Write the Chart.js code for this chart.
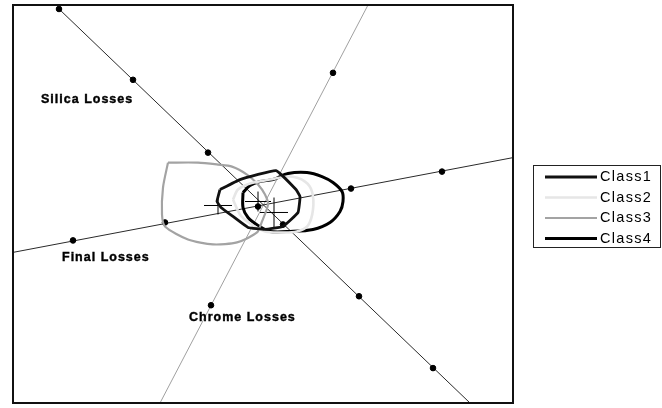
<!DOCTYPE html>
<html>
<head>
<meta charset="utf-8">
<script src="https://cdn.jsdelivr.net/npm/chart.js@4/dist/chart.umd.min.js"></script>
<style>
  body { margin: 0; background: #fff; }
</style>
</head>
<body>
<canvas id="BiplotChart" width="662" height="408"></canvas>
<script>
// Biplot units: x runs 0..500, y runs 0..399 inside the frame

// Calibrated variable axes (end points and tick marks)
var silicaLineX = [46, 457];
var silicaLineY = [395, 0];
var silicaTickX = [46, 120, 195, 270, 346, 420];
var silicaTickY = [395, 324, 251, 179, 107, 35];

var finalLineX = [0, 500];
var finalLineY = [151, 246];
var finalTickX = [60, 152, 338, 429];
var finalTickY = [163, 181, 215, 232];

var chromeLineX = [147, 355];
var chromeLineY = [0, 399];
var chromeTickX = [198, 320];
var chromeTickY = [98, 331];

var originX = [245];
var originY = [197];

// Class regions
var class1X = [207, 204, 208, 220, 235, 252, 270, 285, 287, 283, 263, 227, 207];
var class1Y = [214, 202, 196, 187, 176, 174, 177, 191, 207, 214, 233, 224, 214];

var class2X = [220, 225, 237, 257, 277, 292, 299, 300, 295, 284, 270, 252, 237, 227, 220];
var class2Y = [204, 214, 220, 224, 227, 222, 212, 194, 178, 172, 171, 172, 180, 189, 204];

var class3X = [155, 185, 205, 219, 234, 245, 252, 255, 249, 244, 224, 200, 175, 152, 149, 150, 155];
var class3Y = [241, 241, 239, 237, 229, 219, 209, 199, 182, 171, 161, 159, 164, 177, 189, 216, 241];

var class4X = [230, 237, 247, 260, 275, 294, 309, 320, 329, 330, 327, 317, 300, 277, 257, 245, 235, 230, 230];
var class4Y = [211, 218, 222, 224, 230, 231, 227, 221, 212, 202, 192, 181, 174, 172, 172, 178, 186, 196, 211];

// Class means and spread (cross arms)
var meanX = [205, 245, 261];
var meanY = [198, 202, 191];
var spreadX = [14, 13, 14];
var spreadY = [9, 10, 15];

var axisNames = ["Silica Losses", "Final Losses", "Chrome Losses"];
var axisNameX = [28, 49, 176];
var axisNameY = [304, 146, 86];

function pts(xs, ys) {
    return xs.map(function (x, i) { return { x: x, y: ys[i] }; });
}

function crossPts() {
    var out = [];
    for (var i = 0; i < meanX.length; i++) {
        out.push({ x: meanX[i] - spreadX[i], y: meanY[i] });
        out.push({ x: meanX[i] + spreadX[i], y: meanY[i] });
        out.push({ x: null, y: null });
        out.push({ x: meanX[i], y: meanY[i] - spreadY[i] });
        out.push({ x: meanX[i], y: meanY[i] + spreadY[i] });
        out.push({ x: null, y: null });
    }
    return out;
}

function lineSet(label, data, color, width, tension) {
    return {
        label: label,
        data: data,
        showLine: true,
        borderColor: color,
        borderWidth: width,
        pointRadius: 0,
        tension: tension,
        fill: false
    };
}

function tickSet(label, data) {
    return {
        label: label,
        data: data,
        showLine: false,
        pointRadius: 2.8,
        pointBackgroundColor: "#000",
        pointBorderColor: "#000"
    };
}

var classSets = [
    lineSet("Class1", pts(class1X, class1Y), "#111111", 2.8, 0.1),
    lineSet("Class2", pts(class2X, class2Y), "#e6e6e6", 2.6, 0.3),
    lineSet("Class3", pts(class3X, class3Y), "#a3a3a3", 2.2, 0.25),
    lineSet("Class4", pts(class4X, class4Y), "#000000", 3, 0.3)
];

var axisLabels = {
    id: "axisLabels",
    afterDatasetsDraw: function (chart) {
        var ctx = chart.ctx;
        var xs = chart.scales.x, ys = chart.scales.y;
        ctx.save();
        ctx.fillStyle = "#000";
        ctx.strokeStyle = "#000";
        ctx.lineWidth = 0.4;
        ctx.font = "bold 12.5px 'Liberation Sans', Arial, sans-serif";
        ctx.letterSpacing = "1px";
        ctx.textBaseline = "middle";
        ctx.textAlign = "left";
        axisNames.forEach(function (name, i) {
            var px = xs.getPixelForValue(axisNameX[i]);
            var py = ys.getPixelForValue(axisNameY[i]);
            ctx.fillText(name, px, py);
            ctx.strokeText(name, px, py);
        });
        ctx.restore();
    }
};

var frameAndLegend = {
    id: "frameAndLegend",
    afterDraw: function (chart) {
        var ctx = chart.ctx;
        var a = chart.chartArea;
        ctx.save();
        ctx.strokeStyle = "#111";
        ctx.lineWidth = 2;
        ctx.strokeRect(a.left, a.top, a.right - a.left, a.bottom - a.top);

        // legend box
        ctx.lineWidth = 1;
        ctx.strokeStyle = "#222";
        ctx.strokeRect(533.5, 165.5, 127, 82);
        ctx.font = "14.5px 'Liberation Sans', Arial, sans-serif";
        ctx.letterSpacing = "1.3px";
        ctx.textBaseline = "middle";
        ctx.fillStyle = "#000";
        classSets.forEach(function (ds, i) {
            var y = 177 + i * 20.5;
            ctx.strokeStyle = ds.borderColor;
            ctx.lineWidth = ds.borderWidth;
            ctx.beginPath();
            ctx.moveTo(545, y);
            ctx.lineTo(597, y);
            ctx.stroke();
            ctx.fillText(ds.label, 600, y);
        });
        ctx.restore();
    }
};

var ctx = document.getElementById("BiplotChart");

var BiplotChart = new Chart(ctx, {
    type: "scatter",
    data: {
        datasets: classSets.concat([
            lineSet("means", crossPts(), "#000", 1, 0),
            tickSet("silicaTicks", pts(silicaTickX, silicaTickY)),
            tickSet("finalTicks", pts(finalTickX, finalTickY)),
            tickSet("chromeTicks", pts(chromeTickX, chromeTickY)),
            tickSet("origin", pts(originX, originY)),
            lineSet("Silica Losses", pts(silicaLineX, silicaLineY), "#2a2a2a", 1, 0),
            lineSet("Final Losses", pts(finalLineX, finalLineY), "#2a2a2a", 1, 0),
            lineSet("Chrome Losses", pts(chromeLineX, chromeLineY), "#a0a0a0", 1, 0)
        ])
    },
    options: {
        responsive: false,
        animation: false,
        spanGaps: false,
        layout: { padding: { left: 13, top: 5, right: 149, bottom: 4 } },
        scales: {
            x: { type: "linear", min: 0, max: 500, display: false },
            y: { type: "linear", min: 0, max: 399, display: false }
        },
        plugins: {
            legend: { display: false },
            tooltip: { enabled: false }
        }
    },
    plugins: [axisLabels, frameAndLegend]
});
</script>
</body>
</html>
